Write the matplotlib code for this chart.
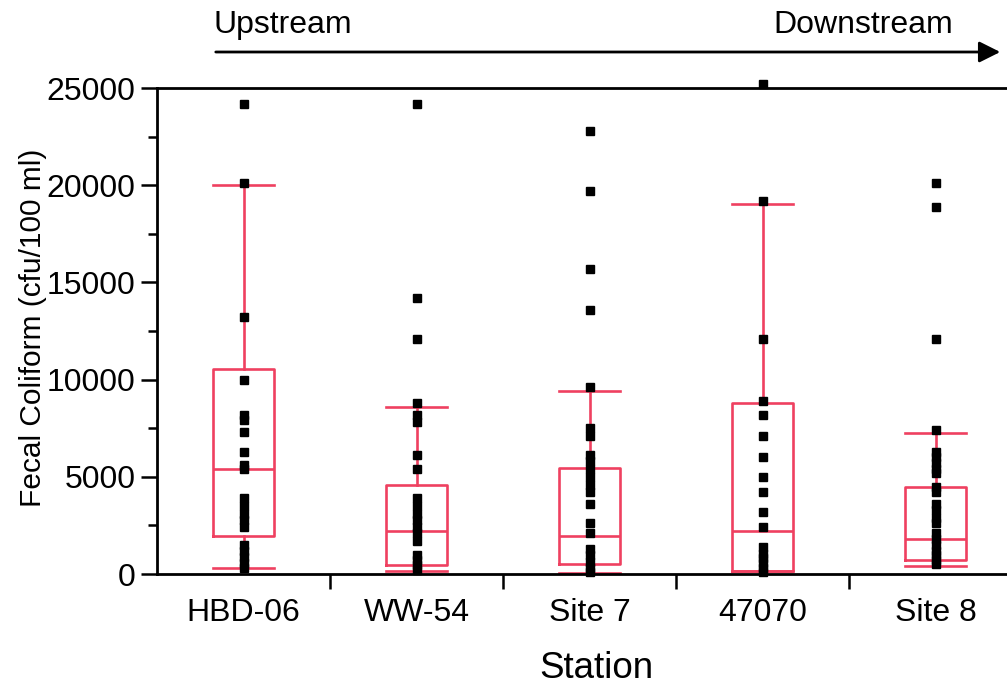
import numpy as np
import matplotlib
matplotlib.use("Agg")
import matplotlib.pyplot as plt
from matplotlib.ticker import MultipleLocator, FixedLocator

plt.rcParams["font.family"] = ["Liberation Sans", "DejaVu Sans"]

estacoes = ["HBD-06", "WW-54", "Site 7", "47070", "Site 8"]

# pontos individuais (cfu/100 ml)
hbd06 = [24200, 20100, 13200, 10000, 8200, 7900, 7300, 6300, 5600, 5400,
         3900, 3500, 3100, 2800, 2400, 1500, 1200, 900, 550, 300]
ww54 = [24200, 14200, 12100, 8800, 8200, 7800, 6100, 5400, 3900, 3500,
        3100, 2800, 2400, 2100, 1700, 1000, 700, 450, 200]
site7 = [22800, 19700, 15700, 13600, 9600, 7500, 7100, 6100, 5800, 5400,
         5000, 4600, 4200, 3600, 2600, 2100, 1300, 1000, 600, 300, 100]
s47070 = [25200, 19200, 12100, 8900, 8200, 7100, 6000, 5000, 4200, 3200,
          2400, 1400, 1050, 800, 550, 300, 100]
site8 = [20100, 18900, 12100, 7400, 6300, 6000, 5700, 5400, 5200, 4500,
         4200, 3600, 3300, 2900, 2600, 2100, 1800, 1500, 1200, 1000, 700, 500]
pontos = [hbd06, ww54, site7, s47070, site8]

# estatisticas das caixas
whislo = [300, 170, 70, 150, 430]
q1 = [1970, 460, 500, 170, 720]
med = [5400, 2210, 1950, 2230, 1780]
q3 = [10560, 4580, 5440, 8780, 4460]
whishi = [20000, 8610, 9430, 19020, 7240]

cor = "#EF4060"

fig = plt.figure(figsize=(10.07, 6.88), dpi=100)
ax = fig.add_axes([157 / 1007, 114 / 688, 865 / 1007, 486 / 688])

stats = []
for i in range(len(estacoes)):
    stats.append({"whislo": whislo[i], "q1": q1[i], "med": med[i],
                  "q3": q3[i], "whishi": whishi[i], "fliers": []})

ax.bxp(stats, positions=range(len(estacoes)), widths=0.347,
       capwidths=0.347, showfliers=False,
       boxprops=dict(color=cor, linewidth=1.9),
       whiskerprops=dict(color=cor, linewidth=1.9),
       capprops=dict(color=cor, linewidth=1.9),
       medianprops=dict(color=cor, linewidth=1.9))

for i, v in enumerate(pontos):
    ax.plot(np.full(len(v), i), v, "s", color="black", ms=6.3,
            clip_on=False, zorder=5)

ax.set_xlim(-0.5, 4.5)
ax.set_ylim(0, 25000)

ax.yaxis.set_major_locator(MultipleLocator(5000))
ax.yaxis.set_minor_locator(MultipleLocator(2500))
ax.tick_params(axis="y", which="major", length=11.5, width=1.8,
               labelsize=23, pad=4)
ax.tick_params(axis="y", which="minor", length=6.5, width=1.8)

ax.set_xticks(range(len(estacoes)))
ax.set_xticklabels(estacoes)
ax.xaxis.set_minor_locator(FixedLocator([0.5, 1.5, 2.5, 3.5]))
ax.tick_params(axis="x", which="major", length=0, labelsize=23, pad=17)
ax.tick_params(axis="x", which="minor", length=11, width=1.8)

for s in ["left", "bottom", "top"]:
    ax.spines[s].set_linewidth(2)
ax.spines["right"].set_visible(False)

fig.text(33 / 1007, 360 / 688, "Fecal Coliform (cfu/100 ml)", rotation=90,
         ha="center", va="center", fontsize=21.5)
fig.text(596 / 1007, 20 / 688, "Station", ha="center", va="center",
         fontsize=26.5)

# seta montante -> jusante
ax.annotate("", xy=(1003 / 1007, 636 / 688), xytext=(213 / 1007, 636 / 688),
            xycoords="figure fraction", textcoords="figure fraction",
            arrowprops=dict(arrowstyle="-|>", color="black", lw=2,
                            mutation_scale=32))
fig.text(213 / 1007, 655 / 688, "Upstream", ha="left", va="baseline",
         fontsize=23)
fig.text(953 / 1007, 655 / 688, "Downstream", ha="right", va="baseline",
         fontsize=23)

fig.savefig("out.png", dpi=100)
